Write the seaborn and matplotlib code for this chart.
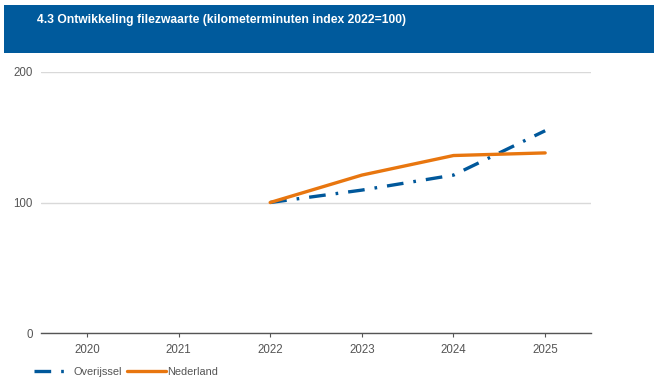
import matplotlib
matplotlib.use("Agg")
import matplotlib.pyplot as plt
import seaborn as sns
import pandas as pd
from matplotlib.patches import Rectangle
from matplotlib.lines import Line2D

years = ["2020", "2021", "2022", "2023", "2024", "2025"]
overijssel = [None, None, 100, 109.5, 121, 155]
nederland = [None, None, 100, 121, 136, 138]
yticks = [0, 100, 200]
title = "4.3 Ontwikkeling filezwaarte (kilometerminuten index 2022=100)"

BLUE = "#00589b"
ORANGE = "#e8760f"
HEADER = "#005a9c"

sns.set_theme(style="white")
plt.rcParams['font.family'] = ['Liberation Sans', 'DejaVu Sans']

W, H = 660, 383
fig = plt.figure(figsize=(W / 100, H / 100), dpi=100)

def fx(px):
    return px / W

def fy(py):
    return 1 - py / H

# header band
fig.patches.append(Rectangle((fx(4), fy(53)), fx(650), 48 / H, transform=fig.transFigure,
                             facecolor=HEADER, edgecolor="none", zorder=0))
fig.text(fx(37), fy(20.5), title, color="white", fontsize=8.7, fontweight="bold",
         va="center", ha="left")

ax = fig.add_axes([fx(41), fy(333), fx(591 - 41), (333 - 72) / H])

df = pd.DataFrame({"year": years, "Overijssel": overijssel, "Nederland": nederland})
df["x"] = range(len(years))

sns.lineplot(data=df, x="x", y="Overijssel", ax=ax, color=BLUE, lw=2.4,
             dashes=False, zorder=3)
ax.lines[-1].set_dashes([5, 3, 0.8, 3])
ax.lines[-1].set_dash_capstyle("butt")
sns.lineplot(data=df, x="x", y="Nederland", ax=ax, color=ORANGE, lw=2.4, zorder=4)

ax.set_xlim(-0.5, len(years) - 0.5)
ax.set_ylim(0, 200)
ax.set_yticks(yticks)
ax.set_yticklabels([str(v) for v in yticks])
ax.set_xticks(range(len(years)))
ax.set_xticklabels(years)
ax.set_xlabel("")
ax.set_ylabel("")
ax.grid(axis="y", color="#d9d9d9", lw=1)
ax.set_axisbelow(True)
for s in ["top", "right", "left"]:
    ax.spines[s].set_visible(False)
ax.spines["bottom"].set_color("#555555")
ax.spines["bottom"].set_linewidth(1)
ax.tick_params(axis="y", length=0, labelsize=8.3, labelcolor="#555555", pad=6)
ax.tick_params(axis="x", length=3, color="#555555", direction="out", bottom=True,
               labelsize=8.3, labelcolor="#555555", pad=5, width=0.8)

h1 = Line2D([], [], color=BLUE, lw=2.4, dashes=[5, 3, 0.8, 3])
h2 = Line2D([], [], color=ORANGE, lw=2.4)
leg = fig.legend([h1, h2], ["Overijssel", "Nederland"], loc="center left",
                 bbox_to_anchor=(fx(24), fy(372)), ncol=2, frameon=False,
                 fontsize=7.9, handlelength=3.5, handletextpad=0.1, columnspacing=0.5,
                 labelcolor="#555555")

fig.savefig("out.png", dpi=100)
